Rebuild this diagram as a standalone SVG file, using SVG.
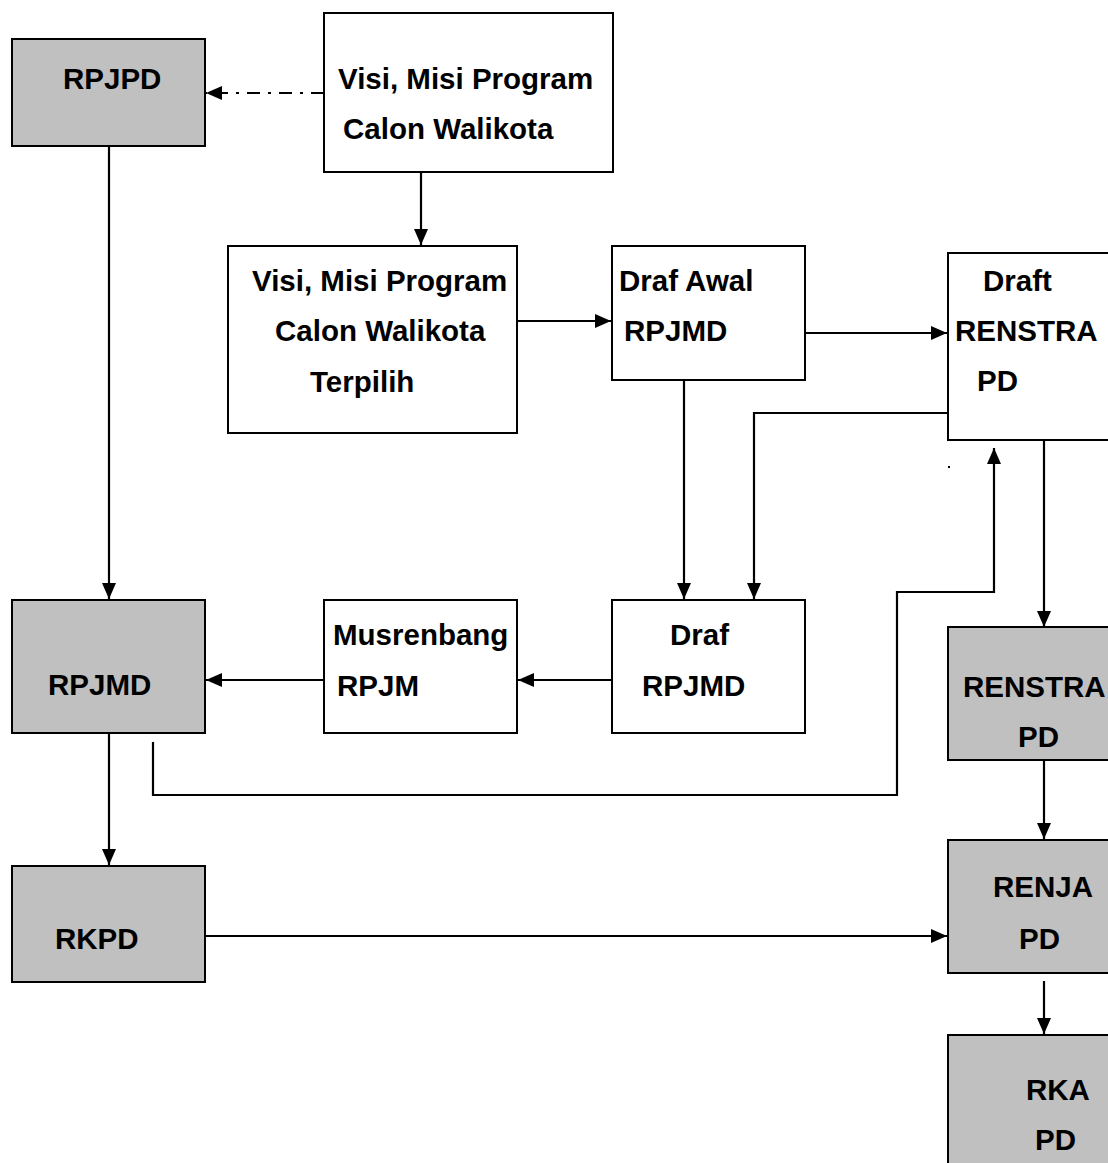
<svg xmlns="http://www.w3.org/2000/svg" width="1108" height="1163" viewBox="0 0 1108 1163">
<defs>
<marker id="ah" viewBox="0 0 16 14" refX="16" refY="7" markerWidth="16" markerHeight="14" markerUnits="userSpaceOnUse" orient="auto">
<path d="M0,0 L16,7 L0,14 Z" fill="#000"/>
</marker>
</defs>
<style>
.box{stroke:#000;stroke-width:2;fill:#fff}
.gray{fill:#c0c0c0}
.t{font-family:"Liberation Sans",Arial,sans-serif;font-weight:bold;font-size:29.5px;fill:#000}
.c{fill:none;stroke:#000;stroke-width:2.2}
</style>
<rect width="1108" height="1163" fill="#fff"/>
<g id="connectors">
<path class="c" d="M324,93 H206" stroke-dasharray="13 8 3 8" marker-end="url(#ah)"/>
<path class="c" d="M421,172 V245" marker-end="url(#ah)"/>
<path class="c" d="M109,146 V599" marker-end="url(#ah)"/>
<path class="c" d="M517,321 H611" marker-end="url(#ah)"/>
<path class="c" d="M805,333 H947" marker-end="url(#ah)"/>
<path class="c" d="M684,380 V599" marker-end="url(#ah)"/>
<path class="c" d="M948,413 H754 V599" marker-end="url(#ah)"/>
<path class="c" d="M1044,440 V627" marker-end="url(#ah)"/>
<path class="c" d="M153,742 V795 H897 V592 H994 V448" marker-end="url(#ah)"/>
<path class="c" d="M324,680 H206" marker-end="url(#ah)"/>
<path class="c" d="M612,680 H518" marker-end="url(#ah)"/>
<path class="c" d="M1044,760 V839" marker-end="url(#ah)"/>
<path class="c" d="M109,733 V865" marker-end="url(#ah)"/>
<path class="c" d="M205,936 H947" marker-end="url(#ah)"/>
<path class="c" d="M1044,981 V1034" marker-end="url(#ah)"/>
<rect x="948" y="466" width="2" height="2" fill="#000"/>
</g>
<g id="rpjpd">
<rect class="box gray" x="12" y="39" width="193" height="107"/>
<text class="t" x="63" y="89">RPJPD</text>
</g>
<g id="visi1">
<rect class="box" x="324" y="13" width="289" height="159"/>
<text class="t" x="338" y="89">Visi, Misi Program</text>
<text class="t" x="343" y="139">Calon Walikota</text>
</g>
<g id="visi2">
<rect class="box" x="228" y="246" width="289" height="187"/>
<text class="t" x="252" y="291">Visi, Misi Program</text>
<text class="t" x="275" y="341">Calon Walikota</text>
<text class="t" x="310" y="392">Terpilih</text>
</g>
<g id="drafawal">
<rect class="box" x="612" y="246" width="193" height="134"/>
<text class="t" x="619" y="291">Draf Awal</text>
<text class="t" x="624" y="341">RPJMD</text>
</g>
<g id="draftrenstra">
<rect class="box" x="948" y="253" width="170" height="187"/>
<text class="t" x="983" y="291">Draft</text>
<text class="t" x="955" y="341">RENSTRA</text>
<text class="t" x="977" y="391">PD</text>
</g>
<g id="rpjmd">
<rect class="box gray" x="12" y="600" width="193" height="133"/>
<text class="t" x="48" y="695">RPJMD</text>
</g>
<g id="musrenbang">
<rect class="box" x="324" y="600" width="193" height="133"/>
<text class="t" x="333" y="645">Musrenbang</text>
<text class="t" x="337" y="696">RPJM</text>
</g>
<g id="drafrpjmd">
<rect class="box" x="612" y="600" width="193" height="133"/>
<text class="t" x="670" y="645">Draf</text>
<text class="t" x="642" y="696">RPJMD</text>
</g>
<g id="renstrapd">
<rect class="box gray" x="948" y="627" width="170" height="133"/>
<text class="t" x="963" y="697">RENSTRA</text>
<text class="t" x="1018" y="747">PD</text>
</g>
<g id="renjapd">
<rect class="box gray" x="948" y="840" width="170" height="133"/>
<text class="t" x="993" y="897">RENJA</text>
<text class="t" x="1019" y="949">PD</text>
</g>
<g id="rkpd">
<rect class="box gray" x="12" y="866" width="193" height="116"/>
<text class="t" x="55" y="949">RKPD</text>
</g>
<g id="rkapd">
<rect class="box gray" x="948" y="1035" width="170" height="140"/>
<text class="t" x="1026" y="1100">RKA</text>
<text class="t" x="1035" y="1150">PD</text>
</g>
</svg>
